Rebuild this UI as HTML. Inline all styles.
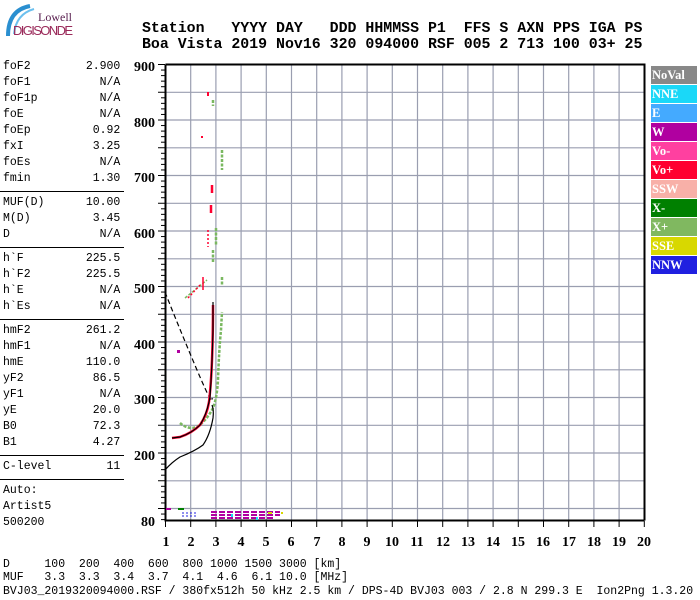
<!DOCTYPE html>
<html><head><meta charset="utf-8"><style>
body{margin:0;background:#fff;width:700px;height:600px;overflow:hidden;position:relative}
.m{position:absolute;font-family:"Liberation Mono",monospace;font-size:11.5px;color:#000;white-space:pre;line-height:16px}
.h{position:absolute;font-family:"Liberation Mono",monospace;font-size:14.9px;font-weight:bold;white-space:pre;line-height:15px}
.hr{position:absolute;left:0;width:124px;height:1px;background:#000}
.lg{position:absolute;left:651px;width:46px;height:18px;font-family:"Liberation Serif",serif;font-weight:bold;font-size:12.5px;color:#fff;line-height:18px;padding-left:1px;box-sizing:border-box}
</style></head><body>
<svg style="position:absolute;left:0;top:0" width="80" height="45">
<path d="M30 6 Q8 10 8 36" stroke="#2a8fd0" stroke-width="4" fill="none"/>
<path d="M34 9 Q16 14 14 34" stroke="#6cc0ee" stroke-width="2" fill="none"/>
<text x="72" y="21" text-anchor="end" font-family="Liberation Serif,serif" font-size="12" fill="#5a2050">Lowell</text>
<text x="13" y="35" font-family="Liberation Sans,sans-serif" font-size="13" fill="#9a2a5a" textLength="60">DIGISONDE</text>
</svg>
<div class="h" style="left:142px;top:22px">Station   YYYY DAY   DDD HHMMSS P1  FFS S AXN PPS IGA PS</div>
<div class="h" style="left:142px;top:38px">Boa Vista 2019 Nov16 320 094000 RSF 005 2 713 100 03+ 25</div>

<div class="m" style="left:3px;top:59px">foF2        2.900
foF1          N/A
foF1p         N/A
foE           N/A
foEp         0.92
fxI          3.25
foEs          N/A
fmin         1.30</div>
<div class="hr" style="top:191px"></div>
<div class="m" style="left:3px;top:195px">MUF(D)      10.00
M(D)         3.45
D             N/A</div>
<div class="hr" style="top:247px"></div>
<div class="m" style="left:3px;top:251px">h`F         225.5
h`F2        225.5
h`E           N/A
h`Es          N/A</div>
<div class="hr" style="top:319px"></div>
<div class="m" style="left:3px;top:323px">hmF2        261.2
hmF1          N/A
hmE         110.0
yF2          86.5
yF1           N/A
yE           20.0
B0           72.3
B1           4.27</div>
<div class="hr" style="top:455px"></div>
<div class="m" style="left:3px;top:459px">C-level        11</div>
<div class="hr" style="top:479px"></div>
<div class="m" style="left:3px;top:483px">Auto:
Artist5
500200</div>

<div class="m" style="left:3px;top:558px;line-height:13px">D     100  200  400  600  800 1000 1500 3000 [km]
MUF   3.3  3.3  3.4  3.7  4.1  4.6  6.1 10.0 [MHz]</div>
<div class="m" style="left:3px;top:585px;line-height:13px">BVJ03_2019320094000.RSF / 380fx512h 50 kHz 2.5 km / DPS-4D BVJ03 003 / 2.8 N 299.3 E  Ion2Png 1.3.20</div>

<svg style="position:absolute;left:0;top:0" width="700" height="600">
<g stroke="#9a9eb0" stroke-width="1.2">
<line x1="190.7" y1="65" x2="190.7" y2="520"/><line x1="215.9" y1="65" x2="215.9" y2="520"/><line x1="241.1" y1="65" x2="241.1" y2="520"/><line x1="266.3" y1="65" x2="266.3" y2="520"/><line x1="291.5" y1="65" x2="291.5" y2="520"/><line x1="316.7" y1="65" x2="316.7" y2="520"/><line x1="341.9" y1="65" x2="341.9" y2="520"/><line x1="367.1" y1="65" x2="367.1" y2="520"/><line x1="392.3" y1="65" x2="392.3" y2="520"/><line x1="417.5" y1="65" x2="417.5" y2="520"/><line x1="442.7" y1="65" x2="442.7" y2="520"/><line x1="467.9" y1="65" x2="467.9" y2="520"/><line x1="493.1" y1="65" x2="493.1" y2="520"/><line x1="518.3" y1="65" x2="518.3" y2="520"/><line x1="543.5" y1="65" x2="543.5" y2="520"/><line x1="568.7" y1="65" x2="568.7" y2="520"/><line x1="593.9" y1="65" x2="593.9" y2="520"/><line x1="619.1" y1="65" x2="619.1" y2="520"/>
<line x1="166" y1="92.3" x2="644" y2="92.3"/><line x1="166" y1="120" x2="644" y2="120"/><line x1="166" y1="147.8" x2="644" y2="147.8"/><line x1="166" y1="175.5" x2="644" y2="175.5"/><line x1="166" y1="203.3" x2="644" y2="203.3"/><line x1="166" y1="231" x2="644" y2="231"/><line x1="166" y1="258.8" x2="644" y2="258.8"/><line x1="166" y1="286.5" x2="644" y2="286.5"/><line x1="166" y1="314.3" x2="644" y2="314.3"/><line x1="166" y1="342" x2="644" y2="342"/><line x1="166" y1="369.8" x2="644" y2="369.8"/><line x1="166" y1="397.5" x2="644" y2="397.5"/><line x1="166" y1="425.3" x2="644" y2="425.3"/><line x1="166" y1="453" x2="644" y2="453"/><line x1="166" y1="480.8" x2="644" y2="480.8"/><line x1="166" y1="508.5" x2="644" y2="508.5"/>
</g>
<path d="M165.5 64.5H644.5V520.5M165.5 64.5V520.5H644.5" stroke="#000" stroke-width="2" fill="none"/>
<g id="ticks" stroke="#000" stroke-width="1"></g>
<g font-family="Liberation Serif,serif" font-weight="bold" font-size="14" text-anchor="end">
<text x="155" y="71">900</text><text x="155" y="127">800</text><text x="155" y="182">700</text><text x="155" y="238">600</text><text x="155" y="293">500</text><text x="155" y="349">400</text><text x="155" y="404">300</text><text x="155" y="460">200</text><text x="155" y="526">80</text>
</g>
<g font-family="Liberation Serif,serif" font-weight="bold" font-size="14" text-anchor="middle">
<text x="166" y="546">1</text><text x="191" y="546">2</text><text x="216" y="546">3</text><text x="241" y="546">4</text><text x="266" y="546">5</text><text x="291" y="546">6</text><text x="317" y="546">7</text><text x="342" y="546">8</text><text x="367" y="546">9</text><text x="392" y="546">10</text><text x="417" y="546">11</text><text x="443" y="546">12</text><text x="468" y="546">13</text><text x="493" y="546">14</text><text x="518" y="546">15</text><text x="543" y="546">16</text><text x="569" y="546">17</text><text x="594" y="546">18</text><text x="619" y="546">19</text><text x="644" y="546">20</text>
</g>
<path d="M165 292 Q180 330 197 370 T212 398" stroke="#000" stroke-width="1.2" stroke-dasharray="5,3" fill="none"/>
<g stroke="#7ab860" stroke-width="2.5" fill="none" stroke-dasharray="3,1.5">
<path d="M180 423 Q188 430 197 427 Q207 420 213 408 Q217 398 218 380 Q219 350 221 330 L222 312"/>
<path d="M185 298 L207 280" stroke-width="1.5"/>
<path d="M222 150 V170"/><path d="M222 277 V286"/><path d="M216 228 V246"/><path d="M213 250 V262"/><path d="M213 100 V106"/>
</g>
<g stroke="#ff0030" stroke-width="2.5" fill="none">
<path d="M172 438 L180 437 Q192 433 200 425 Q207 415 209 402 Q211 385 212 360 Q213 335 213 305"/>
<path d="M212 185 V193"/><path d="M211 205 V213"/><path d="M188 298 L200 285" stroke-width="1.5" stroke-dasharray="2,2"/><path d="M203 277 V290" stroke-width="1.5"/><path d="M208 230 V247" stroke-width="1.5" stroke-dasharray="2,2"/>
</g>
<rect x="207" y="92" width="2" height="4" fill="#ff0030"/><rect x="201" y="136" width="2" height="2" fill="#ff0030"/><rect x="177" y="350" width="3" height="3" fill="#b000a0"/>
<path d="M172 438 L180 437 Q192 433 200 425 Q207 414 210 397 Q212 370 213 330 L213 302" stroke="#000" stroke-width="1.2" fill="none"/>
<path d="M165 470 Q172 462 180 457 Q195 451 203 445 Q210 435 213 418 Q214 410 212 405" stroke="#000" stroke-width="1.2" fill="none"/>
<rect x="166" y="508" width="5" height="2" fill="#b000a0"/><rect x="178" y="508" width="6" height="2" fill="#008000"/>
<path d="M182 513H197M182 516H197" stroke="#2020e0" stroke-width="1" stroke-dasharray="2,2"/>
<path d="M211 512H280M211 515H280M211 518H275" stroke="#b000a0" stroke-width="2" stroke-dasharray="6,2"/>
<rect x="268" y="512" width="4" height="2" fill="#d8d800"/><rect x="281" y="512" width="2" height="2" fill="#d8d800"/><rect x="231" y="514" width="2" height="3" fill="#1ad8f8"/><rect x="256" y="517" width="2" height="3" fill="#1ad8f8"/>
</svg>
<script>
(function(){var g=document.getElementById('ticks'),s='';
for(var h=80;h<=900;h+=10){var y=64.5+(900-h)*0.555;var L=(h%50==0)?7:4;s+='<line x1="'+(165-L)+'" y1="'+y+'" x2="165" y2="'+y+'"/>';}
for(var f=1;f<=20;f++){var x=165.5+(f-1)*25.2;s+='<line x1="'+x+'" y1="521" x2="'+x+'" y2="527"/>';}
g.innerHTML=s;})();
</script>
<div class="lg" style="top:66px;background:#888">NoVal</div>
<div class="lg" style="top:85px;background:#1ad8f8">NNE</div>
<div class="lg" style="top:104px;background:#44aaff">E</div>
<div class="lg" style="top:123px;background:#b000a0">W</div>
<div class="lg" style="top:142px;background:#ff40a0">Vo-</div>
<div class="lg" style="top:161px;background:#ff0030">Vo+</div>
<div class="lg" style="top:180px;background:#f8b0a8">SSW</div>
<div class="lg" style="top:199px;background:#008000">X-</div>
<div class="lg" style="top:218px;background:#80b860">X+</div>
<div class="lg" style="top:237px;background:#d8d800">SSE</div>
<div class="lg" style="top:256px;background:#2020e0">NNW</div>
</body></html>
